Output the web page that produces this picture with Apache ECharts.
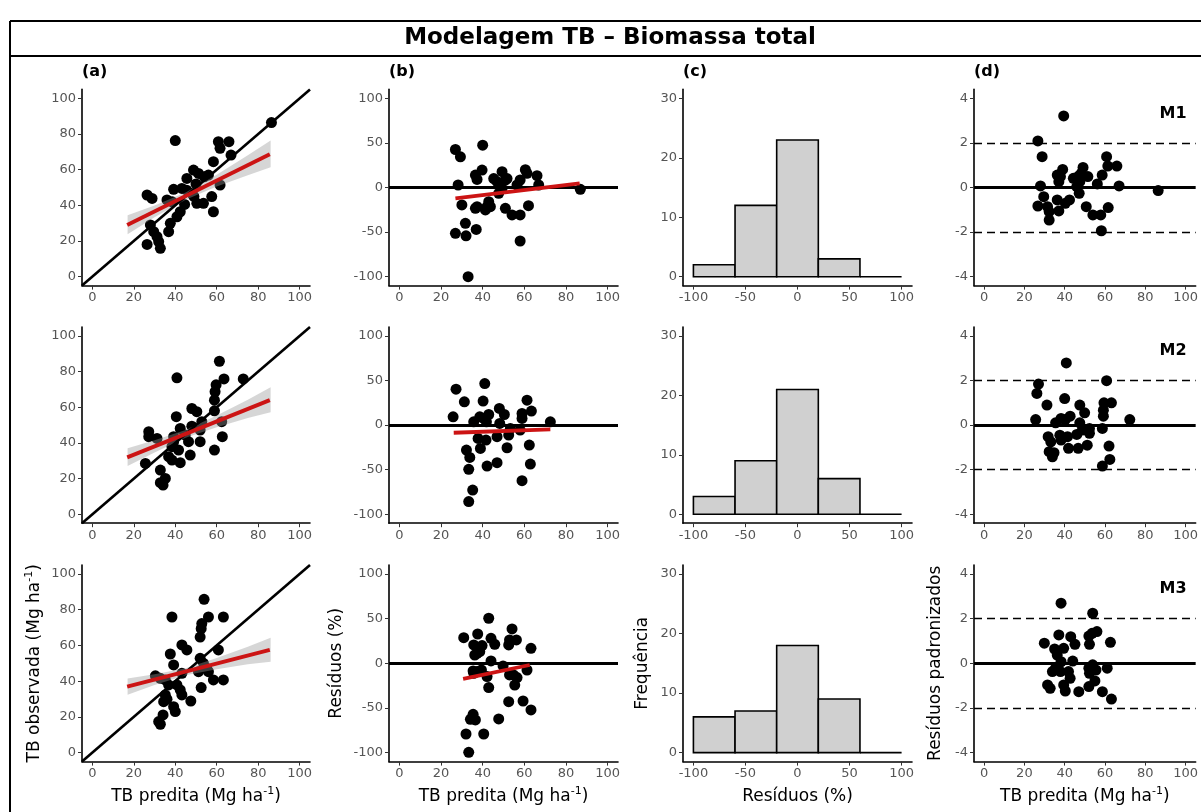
<!DOCTYPE html>
<html>
<head>
<meta charset="utf-8">
<script src="https://cdn.jsdelivr.net/npm/echarts@6/dist/echarts.min.js"></script>
<style>
html, body { margin: 0; padding: 0; background: #fff; }
#chart { width: 1201px; height: 812px; }
</style>
</head>
<body>
<div id="chart"></div>
<script>
// eixos / ticks
var xTicks = [0, 20, 40, 60, 80, 100];
var obsTicks = [0, 20, 40, 60, 80, 100];
var pctTicks = [-100, -50, 0, 50, 100];
var freqTicks = [0, 10, 20, 30];
var stdTicks = [-4, -2, 0, 2, 4];
var binEdges = [-100, -60, -20, 20, 60, 100];
var modelNames = ['M1', 'M2', 'M3'];
var panelTags = ['(a)', '(b)', '(c)', '(d)'];

// M1 - observada x predita
var obsM1 = [[86.4,86.4],[40,76.3],[60.8,75.7],[65.9,75.7],[61.6,72],[66.9,68.2],[58.4,64.5],[48.8,59.8],[51.2,57.9],[45.6,55.1],[56,57],[43.2,49.5],[48,46.7],[39.2,49],[50.4,41.1],[53.6,41.1],[57.6,44.9],[58.4,36.4],[61.6,51.4],[26.4,45.8],[28.8,43.9],[36,43],[42.4,36.4],[40.8,33.6],[37.6,29.9],[36.8,25.2],[28,29],[29.6,25.2],[31.2,22.4],[32,19.6],[26.4,18.1],[32.8,15.9],[45.5,48.5],[50,52],[54,56],[49,45],[38.5,42],[44.5,40.5]];
var pctM1 = [[26.9,42.6],[29.3,34.4],[28.2,2.8],[40,47.5],[39.7,19.6],[36.5,14],[37.3,9],[45.3,10],[49.3,17.8],[46.9,6.5],[51.7,10],[60.5,20],[61.3,15.9],[66.1,13.3],[66.9,2.8],[58,8.4],[56.5,2.8],[47.7,-6.5],[86.9,-2],[30,-19.6],[36.5,-23.4],[41.3,-25.2],[42.9,-15.9],[42.1,-21.5],[50.9,-23.4],[54.1,-30.8],[58,-30.8],[62,-20.4],[26.9,-51.4],[31.7,-40.2],[32,-54.2],[36.9,-47],[58,-60],[33,-100],[48.5,1],[43.7,-21.5],[37.3,-21.5],[50.9,8.4],[49.3,-1]];
var stdM1 = [[39.5,3.21],[26.7,2.09],[28.8,1.38],[28,0.07],[29.6,-0.41],[26.7,-0.83],[31.5,-0.86],[32.3,-1.08],[32.3,-1.46],[36.3,0.56],[39,0.81],[37.1,0.26],[37.9,0.49],[36.3,-0.56],[37.1,-1.05],[40.3,-0.71],[42.4,-0.56],[44.3,0.41],[47,0.52],[47.5,0.26],[47.2,-0.26],[49.1,0.9],[51.5,0.49],[48.3,0.64],[50.7,-0.86],[54,-1.23],[57.9,-1.23],[58.2,-1.94],[61.6,-0.9],[56.2,0.16],[58.6,0.56],[60.8,1.38],[61.4,0.96],[65.9,0.96],[67,0.07],[86.4,-0.14],[46,0.04]];
var countsM1 = [2, 12, 23, 3, 0];
var fitM1 = [[16.8,29.0],[85.6,68.6]];
var bandM1 = [[17,23.8,34.4],[30,33.3,39.9],[45,43.2,47.2],[60,50.6,57.2],[75,56.9,68.1],[86,61.4,76.4]];
var pctFitM1 = [[26.9,-12.1],[86.6,4.7]];

// M2
var obsM2 = [[61.3,85.8],[40.8,76.5],[63.5,75.9],[72.8,75.9],[59.7,72.6],[59.2,68.7],[58.9,64],[48,59.3],[50.4,57.5],[40.5,54.7],[58.9,58],[42.4,48.1],[48,49.4],[52.8,51.9],[62.4,51.9],[52,47.2],[27.2,46.3],[27.2,43.5],[31.2,42.5],[39.2,43.5],[44.8,44.4],[46.4,40.7],[52,40.7],[62.7,43.5],[58.9,36],[25.6,28.5],[38.4,37.9],[41.6,36],[36.8,32.3],[38.4,30.4],[42.4,28.9],[47.2,33.2],[32.8,24.8],[35.2,20.1],[32.8,17.7],[34.1,16.4],[39.2,40.7]];
var pctM2 = [[27.2,40.3],[25.8,9.3],[31.2,26.1],[41,46.6],[40.2,26.9],[35.7,3.7],[38.6,9.3],[40.5,7.5],[42.9,11.9],[41.8,3.7],[48,18.7],[50.4,11.9],[48.2,1.9],[58.9,13],[61.3,28],[63.4,15.7],[58.9,7.5],[72.5,3.7],[53.3,-3.7],[52.5,-11.2],[46.9,-13],[37.8,-14.9],[38.9,-26.1],[41.6,-16.8],[51.7,-25.4],[32.2,-28],[33.8,-36.2],[33.3,-49.6],[42.1,-45.9],[46.9,-42.2],[62.4,-22.4],[62.9,-43.7],[58.9,-62.3],[35.2,-72.8],[33.3,-85.8],[58,-5.6]];
var stdM2 = [[40.8,2.79],[27,1.84],[26.2,1.42],[25.6,0.25],[31.2,0.9],[40,1.19],[47.5,0.9],[49.9,0.55],[60.8,1.99],[59.5,1.0],[63.2,1.0],[59.2,0.67],[59.2,0.4],[72.3,0.25],[35.5,0.1],[38.2,0.3],[42.7,0.4],[40.3,0.25],[47.5,0.1],[52.3,-0.15],[58.7,-0.15],[31.8,-0.52],[33.1,-0.75],[37.6,-0.45],[38.2,-0.67],[41.4,-0.52],[46,-0.42],[48.8,-0.22],[52.3,-0.37],[62,-0.94],[51.2,-0.9],[41.9,-1.04],[46.7,-1.04],[32.3,-1.19],[34.7,-1.24],[33.9,-1.42],[62.4,-1.54],[58.7,-1.84]];
var countsM2 = [3, 9, 21, 6, 0];
var fitM2 = [[16.8,31.9],[85.6,64.0]];
var bandM2 = [[17,27,37],[30,34.7,41.5],[45,42.9,47.3],[60,48.8,55.4],[75,54,64.2],[86,57.2,71.2]];
var pctFitM2 = [[26.1,-8.6],[72.5,-4.9]];

// M3
var obsM3 = [[53.9,85.8],[38.4,75.9],[56,75.9],[63.2,75.9],[52.8,72.2],[52.5,69.4],[52,64.7],[43.2,60.3],[45.6,57.5],[37.6,55.2],[60.8,57.5],[39.2,49.1],[52,52.8],[53.6,50],[55.2,47.2],[51.2,45.3],[30.4,43],[32.8,41.6],[35.2,40.7],[43.2,44.4],[36.8,37.9],[40.8,37.9],[58.4,40.7],[63.2,40.7],[52.5,36.4],[42.4,35.1],[43.2,32.3],[47.5,28.9],[35.2,32.3],[34.4,28.5],[36,29.9],[39.2,25.7],[40,23],[34.1,21.1],[32,17.4],[32.8,15.9],[56,45.3]];
var pctM3 = [[42.9,50.4],[30.9,28.7],[37.6,32.8],[35.7,20.5],[39.7,19.8],[37.3,11.2],[36.2,9.3],[38.6,13],[44,28],[45.8,21.3],[44,2.6],[54.1,38.4],[52.9,26.1],[56.2,26.1],[52.5,20.5],[63.2,16.8],[49.8,-3],[37.3,-9.3],[39.4,-7.5],[42.1,-14.9],[42.9,-27.2],[35.4,-8.6],[35.7,-11.2],[52.9,-13],[54.8,-13],[56.5,-16],[55.4,-24.3],[61.3,-7.5],[52.5,-42.9],[59.4,-42.2],[63.2,-52.2],[34.1,-62.7],[47.7,-62.3],[35.4,-57.1],[36.5,-63.4],[40.5,-79.1],[32,-79.1],[33.3,-99.6]];
var stdM3 = [[38.2,2.69],[53.9,2.24],[29.9,0.9],[37.1,1.27],[43,1.19],[45.1,0.85],[52,1.22],[53.6,1.34],[56,1.42],[52.3,0.85],[62.7,0.94],[35,0.64],[39.5,0.67],[36.3,0.37],[44,0.1],[38.2,0.07],[35.5,-0.22],[33.9,-0.37],[37.9,-0.37],[41.9,-0.37],[42.7,-0.67],[52,-0.22],[53.9,-0.07],[55.5,-0.3],[52.3,-0.45],[55,-0.79],[61.1,-0.22],[31.5,-0.97],[32.8,-1.12],[39.5,-0.97],[40.3,-1.24],[47,-1.27],[52,-1.04],[58.7,-1.27],[63.2,-1.6]];
var countsM3 = [6, 7, 18, 9, 0];
var fitM3 = [[16.8,36.9],[85.6,57.5]];
var bandM3 = [[17,32.4,41.5],[30,37.8,43.9],[45,43.3,47.3],[60,46.7,52.9],[75,49.4,59.2],[86,50.9,64.3]];
var pctFitM3 = [[30.6,-17.5],[62.6,-1.9]];

var rows = [
	{obs: obsM1, pct: pctM1, std: stdM1, counts: countsM1, fit: fitM1, band: bandM1, pctFit: pctFitM1},
	{obs: obsM2, pct: pctM2, std: stdM2, counts: countsM2, fit: fitM2, band: bandM2, pctFit: pctFitM2},
	{obs: obsM3, pct: pctM3, std: stdM3, counts: countsM3, fit: fitM3, band: bandM3, pctFit: pctFitM3}
];

// layout (px)
var colLeft = [82, 389, 683, 974];
var colWidth = [228, 229, 229, 228];
var rowTop = [89.4, 327, 565];
var rowHeight = [196.2, 196.2, 196.6];
var FONT = 'DejaVu Sans';

var nameRich = {
	t: {fontSize: 17, fontFamily: FONT, color: '#000', lineHeight: 22},
	s: {fontSize: 11, fontFamily: FONT, color: '#000', lineHeight: 12, verticalAlign: 'top'}
};

function makeAxis(gi, min, max, ticks, name, gap) {
	var ax = {
		type: 'value', gridIndex: gi, min: min, max: max,
		axisLine: {onZero: false, lineStyle: {color: '#000', width: 1.6}},
		axisTick: {show: true, customValues: ticks, length: 4, lineStyle: {color: '#333', width: 1}},
		axisLabel: {customValues: ticks, color: '#555', fontSize: 13, fontFamily: FONT, margin: 6},
		splitLine: {show: false}
	};
	if (name) {
		ax.name = name;
		ax.nameLocation = 'middle';
		ax.nameGap = gap;
		ax.nameTextStyle = {rich: nameRich};
	}
	return ax;
}

var grids = [], xAxes = [], yAxes = [], series = [];
var lim = [-5, 105];
var predName = '{t|TB predita (Mg ha}{s|-1}{t|)}';

rows.forEach(function(row, r) {
	var last = r === rows.length - 1;
	for (var c = 0; c < 4; c++) {
		grids.push({left: colLeft[c], top: rowTop[r], width: colWidth[c], height: rowHeight[r]});
	}
	var g = r * 4;
	// (a)
	xAxes.push(makeAxis(g, lim[0], lim[1], xTicks, last ? predName : null, 24));
	yAxes.push(makeAxis(g, lim[0], lim[1], obsTicks, last ? '{t|TB observada (Mg ha}{s|-1}{t|)}' : null, 36));
	// (b)
	xAxes.push(makeAxis(g + 1, lim[0], lim[1], xTicks, last ? predName : null, 24));
	yAxes.push(makeAxis(g + 1, -110, 110, pctTicks, last ? '{t|Resíduos (%)}' : null, 41));
	// (c)
	xAxes.push(makeAxis(g + 2, -110, 110, pctTicks, last ? '{t|Resíduos (%)}' : null, 24));
	yAxes.push(makeAxis(g + 2, -1.5, 31.5, freqTicks, last ? '{t|Frequência}' : null, 29));
	// (d)
	xAxes.push(makeAxis(g + 3, lim[0], lim[1], xTicks, last ? predName : null, 24));
	yAxes.push(makeAxis(g + 3, -4.4, 4.4, stdTicks, last ? '{t|Resíduos padronizados}' : null, 27));

	// panel a
	series.push({
		type: 'scatter', xAxisIndex: g, yAxisIndex: g, data: row.obs,
		symbolSize: 11, itemStyle: {color: '#000', opacity: 1}, z: 2
	});
	series.push({
		type: 'custom', xAxisIndex: g, yAxisIndex: g, data: [0], z: 3, silent: true,
		renderItem: (function(band) {
			return function(params, api) {
				var pts = [];
				band.forEach(function(b) { pts.push(api.coord([b[0], b[2]])); });
				band.slice().reverse().forEach(function(b) { pts.push(api.coord([b[0], b[1]])); });
				return {type: 'polygon', shape: {points: pts}, style: {fill: 'rgba(153,153,153,0.4)'}};
			};
		})(row.band)
	});
	series.push({
		type: 'line', xAxisIndex: g, yAxisIndex: g, data: [[lim[0], lim[0]], [lim[1], lim[1]]],
		symbol: 'none', lineStyle: {color: '#000', width: 2.6}, z: 4, clip: true, silent: true
	});
	series.push({
		type: 'line', xAxisIndex: g, yAxisIndex: g, data: row.fit,
		symbol: 'none', lineStyle: {color: '#cc1414', width: 3.8}, z: 5, silent: true
	});

	// panel b
	series.push({
		type: 'scatter', xAxisIndex: g + 1, yAxisIndex: g + 1, data: row.pct,
		symbolSize: 11, itemStyle: {color: '#000', opacity: 1}, z: 2,
		markLine: {
			silent: true, symbol: 'none', label: {show: false},
			lineStyle: {color: '#000', width: 2.8, type: 'solid'},
			data: [{yAxis: 0}]
		}
	});
	series.push({
		type: 'line', xAxisIndex: g + 1, yAxisIndex: g + 1, data: row.pctFit,
		symbol: 'none', lineStyle: {color: '#cc1414', width: 3.8}, z: 5, silent: true
	});

	// panel c - histograma
	var hist = row.counts.map(function(n, i) { return [binEdges[i], binEdges[i + 1], n]; });
	series.push({
		type: 'custom', xAxisIndex: g + 2, yAxisIndex: g + 2, data: hist, silent: true,
		encode: {x: [0, 1], y: 2},
		renderItem: function(params, api) {
			var p0 = api.coord([api.value(0), 0]);
			var p1 = api.coord([api.value(1), api.value(2)]);
			return {
				type: 'rect',
				shape: {x: p0[0], y: p1[1], width: p1[0] - p0[0], height: p0[1] - p1[1]},
				style: {fill: '#d0d0d0', stroke: '#000', lineWidth: 1.6}
			};
		}
	});

	// panel d
	series.push({
		type: 'scatter', xAxisIndex: g + 3, yAxisIndex: g + 3, data: row.std,
		symbolSize: 11, itemStyle: {color: '#000', opacity: 1}, z: 3,
		markLine: {
			silent: true, symbol: 'none', label: {show: false}, z: 2,
			data: [
				{yAxis: 0, lineStyle: {color: '#000', width: 2.8, type: 'solid'}},
				{yAxis: 2, lineStyle: {color: '#000', width: 1.4, type: [8, 5]}},
				{yAxis: -2, lineStyle: {color: '#000', width: 1.4, type: [8, 5]}}
			]
		}
	});
});

// textos soltos
var graphics = [
	{type: 'line', shape: {x1: 10, y1: 21, x2: 1201, y2: 21}, style: {stroke: '#000', lineWidth: 2}},
	{type: 'line', shape: {x1: 10, y1: 56, x2: 1201, y2: 56}, style: {stroke: '#000', lineWidth: 2}},
	{type: 'line', shape: {x1: 10, y1: 21, x2: 10, y2: 812}, style: {stroke: '#000', lineWidth: 2}},
	{type: 'text', x: 610, y: 38, style: {text: 'Modelagem TB – Biomassa total', font: 'bold 23px "DejaVu Sans"', fill: '#000', textAlign: 'center', textVerticalAlign: 'middle'}}
];
panelTags.forEach(function(tag, i) {
	graphics.push({type: 'text', x: colLeft[i], y: 72, style: {text: tag, font: 'bold 16px "DejaVu Sans"', fill: '#000', textAlign: 'left', textVerticalAlign: 'middle'}});
});
modelNames.forEach(function(m, r) {
	graphics.push({type: 'text', x: 1173, y: rowTop[r] + 24, style: {text: m, font: 'bold 16px "DejaVu Sans"', fill: '#000', textAlign: 'center', textVerticalAlign: 'middle'}});
});

var myChart = echarts.init(document.getElementById('chart'));
myChart.setOption({
	animation: false,
	backgroundColor: '#fff',
	grid: grids,
	xAxis: xAxes,
	yAxis: yAxes,
	series: series,
	graphic: graphics
});
</script>
</body>
</html>
